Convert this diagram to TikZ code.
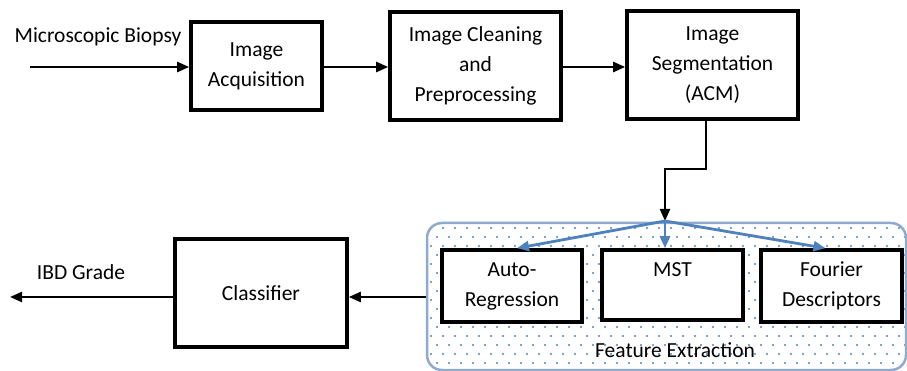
\documentclass[tikz,border=0pt]{standalone}
\usepackage{fontspec}
\setmainfont{Carlito}
\usetikzlibrary{arrows.meta}
\definecolor{fxblue}{HTML}{4F81BD}
\definecolor{fxframe}{HTML}{8FAACC}
\begin{document}
\begin{tikzpicture}[x=1pt,y=-1pt,font=\fontsize{21.5}{30}\selectfont,
  box/.style={draw,line width=3.6pt,align=center,inner sep=0pt,fill=white},
  arr/.style={line width=2.3pt,-{Triangle[length=12pt,width=10pt]}},
  barr/.style={draw=fxblue,line width=2.8pt,-{Triangle[length=12pt,width=10pt]}},
  lbl/.style={inner sep=0pt,align=center}]
\useasboundingbox (0,0) rectangle (907,371);
% Feature extraction container with dots
\begin{scope}
  \clip[rounded corners=15pt] (427,223) rectangle (906,370);
  \foreach \j in {0,...,16}
    \foreach \i in {0,...,40}
      \fill[fxblue] ({431+12*\i+6*mod(\j,2)},{228+9*\j}) circle (1.1pt);
\end{scope}
\node[draw=fxframe,line width=2.5pt,rounded corners=15pt,minimum width=479,minimum height=147,inner sep=0pt] (fx) at (666.5,296.5) {};
\node[lbl] (fxl) at (675,350) {Feature Extraction};
% top row
\node[lbl] (mb) at (98,37) {Microscopic Biopsy};
\coordinate (in) at (30,67);
\node[box,minimum width=131,minimum height=88] (acq) at (256.5,66) {\raisebox{3pt}{\begin{tabular}{@{}c@{}}Image\\Acquisition\end{tabular}}};
\node[box,minimum width=171,minimum height=108] (clean) at (475.5,66) {\raisebox{2pt}{\begin{tabular}{@{}c@{}}Image Cleaning\\and\\Preprocessing\end{tabular}}};
\node[box,minimum width=171,minimum height=108] (seg) at (712.5,65) {Image\\Segmentation\\(ACM)};
% features
\node[box,minimum width=140,minimum height=72] (ar) at (512,286) {Auto-\\Regression};
\node[box,minimum width=141,minimum height=70] (mst) at (672.5,285) {MST\\\phantom{X}};
\node[box,minimum width=141,minimum height=72] (fd) at (831.5,286) {Fourier\\Descriptors};
% classifier
\node[box,minimum width=172,minimum height=108] (cls) at (261,293) {Classifier};
\node[lbl] (ibd) at (81,272) {IBD Grade};
\coordinate (out) at (10,297);
\coordinate (br) at (665,221);
% connectors
\draw[arr] (in) -- (acq.west |- in);
\draw[arr] (acq.east |- in) -- (clean.west |- in);
\draw[arr] (clean.east |- in) -- (seg.west |- in);
\draw[arr] ([xshift=-6.5pt]seg.south) -- ++(0,48) -| (br);
\draw[barr] (br) -- ([xshift=5pt]ar.north);
\draw[barr] (br) -- (br |- mst.north);
\draw[barr] (br) -- ([xshift=-6pt]fd.north);
\draw[arr] (fx.west |- out) -- (cls.east |- out);
\draw[arr] (cls.west |- out) -- (out);
\end{tikzpicture}
\end{document}
